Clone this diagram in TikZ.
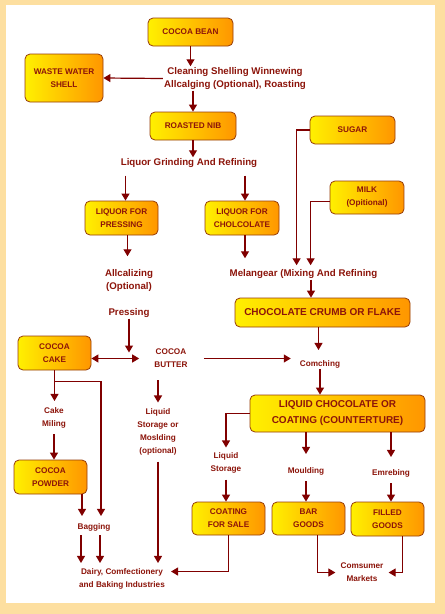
\documentclass[tikz,border=0pt]{standalone}
\usepackage{fontspec}
\setmainfont{Liberation Sans}
\usetikzlibrary{arrows.meta,positioning,calc}
\definecolor{arrowred}{RGB}{128,0,0}
\definecolor{boxtext}{RGB}{140,20,10}
\definecolor{paper}{RGB}{253,223,160}
\definecolor{boxyellow}{RGB}{255,240,0}
\definecolor{boxorange}{RGB}{255,150,0}
\definecolor{boxedge}{RGB}{150,60,10}

\begin{document}
\begin{tikzpicture}[x=1pt,y=-1pt,>={Triangle[width=8pt,length=7pt]},
  box/.style={draw=boxedge,line width=0.8pt,rounded corners=5pt,left color=boxyellow,right color=boxorange,
    text=boxtext,font=\bfseries\fontsize{8.2}{13}\selectfont,align=center,minimum width=73pt,minimum height=34pt,inner sep=1pt},
  bigbox/.style={box,font=\bfseries\fontsize{10}{16}\selectfont,minimum width=175pt},
  lbl/.style={text=boxtext,font=\bfseries\fontsize{8.2}{13}\selectfont,align=center,inner sep=1pt},
  biglbl/.style={lbl,font=\bfseries\fontsize{9.7}{13}\selectfont},
  arr/.style={->,draw=arrowred,line width=1.2pt}]
  \fill[paper] (0,0) rectangle (445,614);
  \fill[white] (6,5) rectangle (435,603);

  \node[box,minimum width=85pt,minimum height=28pt] (bean) at (190.5,32) {COCOA BEAN};
  \node[box,minimum width=78pt,minimum height=48pt] (waste) at (64,78) {WASTE WATER\\SHELL};
  \node[biglbl] (clean) at (235,78.5) {Cleaning Shelling Winnewing\\Allcalging (Optional), Roasting};
  \node[box,minimum width=86pt,minimum height=28pt] (nib) at (193,126) {ROASTED NIB};
  \node[biglbl] (grind) at (189,163) {Liquor Grinding And Refining};
  \node[box,minimum width=85pt,minimum height=28pt] (sugar) at (352.5,130) {SUGAR};
  \node[box,minimum width=74pt,minimum height=33pt] (milk) at (367,197.5) {MILK\\(Opitional)};
  \node[box] (lpress) at (121.5,218) {LIQUOR FOR\\PRESSING};
  \node[box,minimum width=74pt] (lchoc) at (242,218) {LIQUOR FOR\\CHOLCOLATE};
  \node[biglbl] (alk) at (129,280.5) {Allcalizing\\(Optional)};
  \node[biglbl] (press) at (129,313) {Pressing};
  \node[biglbl] (mel) at (303.5,274) {Melangear (Mixing And Refining};
  \node[bigbox,minimum height=29pt] (crumb) at (322.5,312.5) {CHOCOLATE CRUMB OR FLAKE};
  \node[box] (cake) at (54.5,353) {COCOA\\CAKE};
  \node[lbl] (butter) at (171,358.5) {COCOA\\BUTTER};
  \node[lbl] (conch) at (320,364) {Comching};
  \node[bigbox,minimum height=37pt] (liquid) at (337.5,413.5) {LIQUID CHOCOLATE OR\\COATING (COUNTERTURE)};
  \node[lbl] (milling) at (54,417.5) {Cake\\Miling};
  \node[box] (powder) at (50.5,477) {COCOA\\POWDER};
  \node[lbl] (bag) at (94,527) {Bagging};
  \node[lbl] (lstor) at (158,432) {Liquid\\Storage or\\Moslding\\(optional)};
  \node[lbl] (dairy) at (122,578.5) {Dairy, Comfectionery\\and Baking Industries};
  \node[lbl] (lsto2) at (226,463) {Liquid\\Storage};
  \node[lbl] (mould) at (306,471) {Moulding};
  \node[lbl] (emb) at (391,473) {Emrebing};
  \node[box,minimum height=33pt] (coat) at (228.5,518.5) {COATING\\FOR SALE};
  \node[box,minimum height=33pt] (bar) at (308.5,518.5) {BAR\\GOODS};
  \node[box] (filled) at (387.5,519) {FILLED\\GOODS};
  \node[lbl] (market) at (362,572.5) {Comsumer\\Markets};

  \draw[arr] (bean.south) -- (bean.south |- clean.north);
  \draw[arr] (clean.west) -- (waste.east);
  \draw[arr] (clean.south -| nib.north) -- (nib.north);
  \draw[arr] (nib.south) -- (nib.south |- grind.north);
  \draw[arr,shorten <=7pt] ([xshift=4pt]lpress.north |- grind.south) -- ([xshift=4pt]lpress.north);
  \draw[arr,shorten <=7pt] ([xshift=3pt]lchoc.north |- grind.south) -- ([xshift=3pt]lchoc.north);
  \draw[arr,shorten >=12pt] ([xshift=6pt]lpress.south) -- ([xshift=6pt]lpress.south |- alk.north);
  \draw[arr,shorten >=10pt] ([xshift=3pt]lchoc.south) -- ([xshift=3pt]lchoc.south |- mel.north);
  \draw[arr,shorten >=6pt] (press.south) -- (press.south |- butter.west);
  \draw[arr,shorten >=3pt] (sugar.west) -| ([xshift=-13pt]sugar.west |- mel.north);
  \draw[arr,shorten >=3pt] ([yshift=-4pt]milk.west) -| ([xshift=-19pt]milk.west |- mel.north);
  \draw[arr] ([xshift=-11.5pt]crumb.north |- mel.south) -- ([xshift=-11.5pt]crumb.north);
  \draw[arr,shorten >=9pt] ([xshift=-4pt]crumb.south) -- ([xshift=-4pt]crumb.south |- conch.north);
  \draw[arr,<->,shorten >=14pt] (cake.east |- butter.west) -- (butter.west);
  \draw[arr,shorten <=15pt,shorten >=8pt] (butter.east) -- (butter.east -| conch.west);
  \draw[arr] (conch.south) -- (conch.south |- liquid.north);
  \draw[arr,shorten >=5pt] (cake.south) -- (cake.south |- milling.north);
  \draw[arr,shorten >=6pt] ([yshift=-11pt]cake.south) -| ([xshift=7pt]bag.north);
  \draw[arr,shorten <=5pt] (milling.south) -- (milling.south |- powder.north);
  \draw[arr,shorten >=6pt] ([xshift=-12pt]bag.north |- powder.south) -- ([xshift=-12pt]bag.north);
  \draw[arr,shorten <=3pt,shorten >=4pt] ([xshift=-13pt]bag.south) -- ([xshift=-13pt]bag.south |- dairy.north);
  \draw[arr,shorten <=3pt,shorten >=4pt] ([xshift=6pt]bag.south) -- ([xshift=6pt]bag.south |- dairy.north);
  \draw[arr,shorten <=11pt,shorten >=5pt] (butter.south -| lstor.north) -- (lstor.north);
  \draw[arr,shorten <=5pt,shorten >=4pt] (lstor.south) -- (lstor.south |- dairy.north);
  \draw[arr,shorten >=4pt] (liquid.west) -| (lsto2.north);
  \draw[arr,shorten <=5pt] (lsto2.south) -- (lsto2.south |- coat.north);
  \draw[arr,shorten >=12pt] (liquid.south -| mould.north) -- (mould.north);
  \draw[arr,shorten >=11pt] (liquid.south -| emb.north) -- (emb.north);
  \draw[arr,shorten <=5pt] (mould.south) -- (mould.south |- bar.north);
  \draw[arr,shorten <=5pt] (emb.south) -- (emb.south |- filled.north);
  \draw[arr,shorten >=5pt] (coat.south) |- ([yshift=7pt]dairy.east);
  \draw[arr,shorten >=4pt] ([xshift=9pt]bar.south) |- (market.west);
  \draw[arr,shorten >=4pt] ([xshift=15pt]filled.south) |- (market.east);
\end{tikzpicture}
\end{document}
